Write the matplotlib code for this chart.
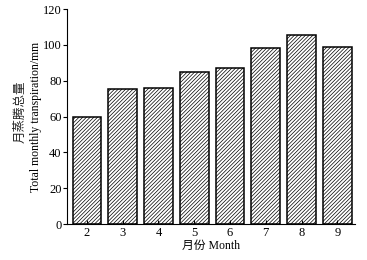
import numpy as np
from matplotlib import pyplot as plt

plt.rcParams['font.family'] = ['Liberation Serif', 'Noto Sans CJK SC']
plt.rcParams['hatch.linewidth'] = 0.5
plt.rcParams['hatch.color'] = '#2a2a2a'

months = [2, 3, 4, 5, 6, 7, 8, 9]
transpiration = [60, 75.3, 76.2, 85, 87.4, 98.4, 105.4, 98.6]

fig = plt.figure(figsize=(3.67, 2.6), dpi=100)
ax = fig.add_axes([0.183, 0.138, 0.785, 0.827])

ax.bar(months, transpiration, width=0.8, color='white', edgecolor='black',
       linewidth=1.1, hatch='/////////')

ax.set_xlim(1.45, 9.5)
ax.set_ylim(0, 120)
ax.set_xticks(months)
ax.set_yticks(np.arange(0, 121, 20))
ax.spines['top'].set_visible(False)
ax.spines['right'].set_visible(False)
ax.tick_params(axis='x', direction='in', length=3, labelsize=9, pad=2)
ax.tick_params(axis='y', direction='out', length=3, labelsize=9, pad=1)

ax.set_xlabel('月份 Month', fontsize=8.5, labelpad=1)
fig.text(0.098, 0.55, 'Total monthly transpiration/mm', rotation=90,
         fontsize=8.5, ha='center', va='center')
fig.text(0.055, 0.57, '月蒸腾总量', rotation=90, fontsize=9,
         ha='center', va='center', family='Noto Sans CJK SC', color='#222222')

fig.savefig('out.png', dpi=100)
